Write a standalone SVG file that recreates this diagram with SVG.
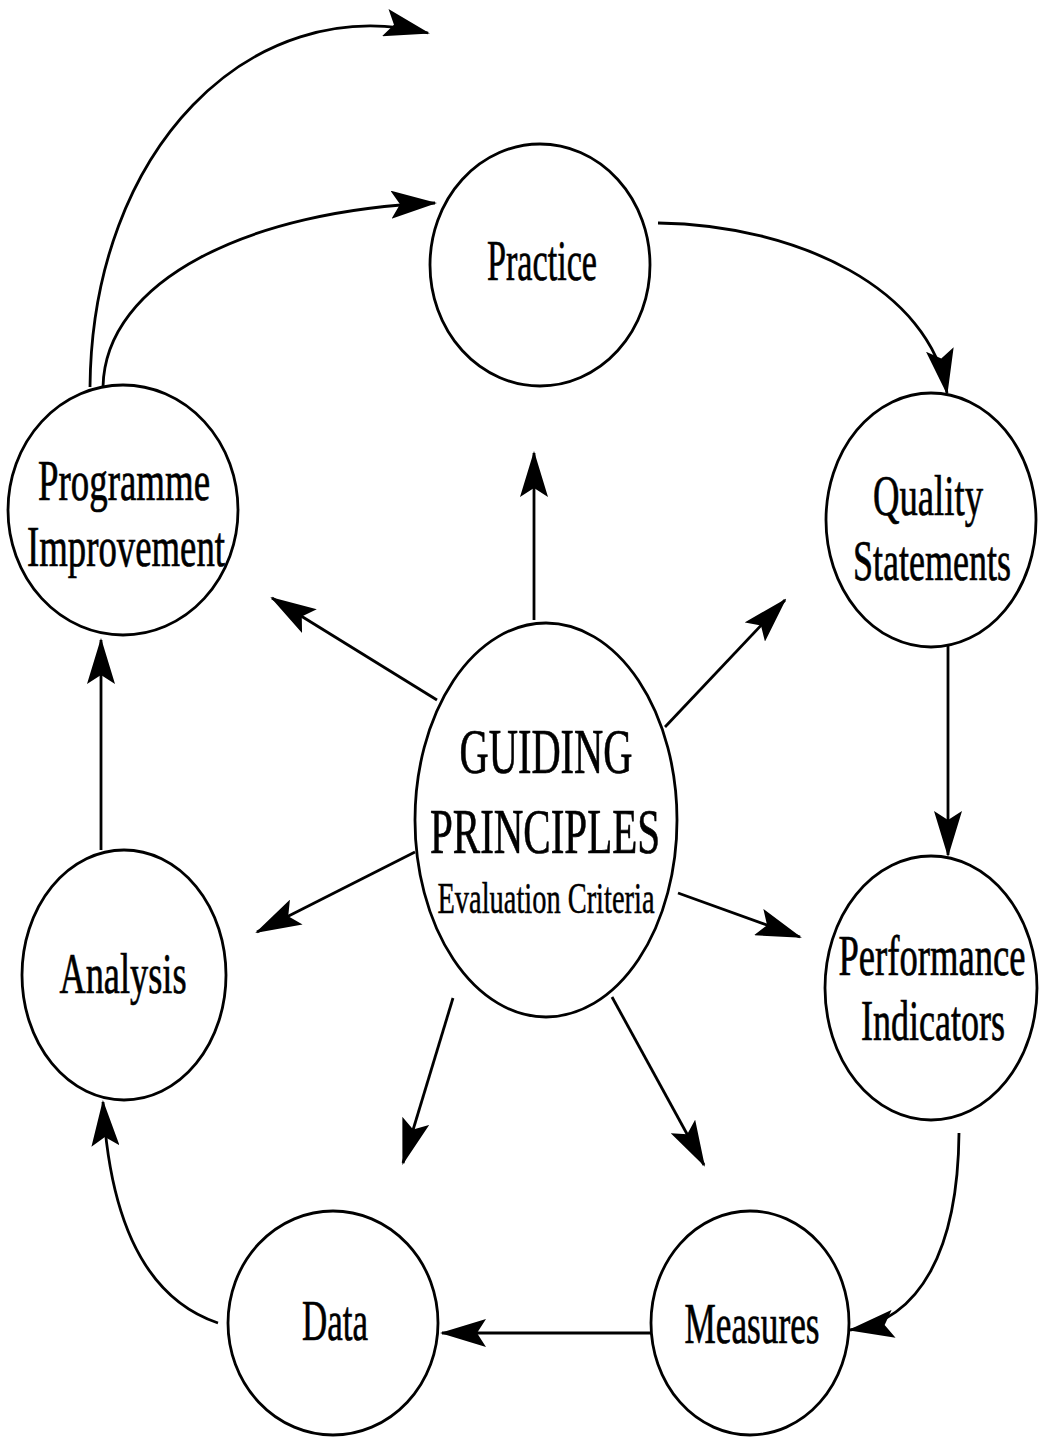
<svg xmlns="http://www.w3.org/2000/svg" width="1039" height="1437" viewBox="0 0 1039 1437">
  <style>
    .node { fill: #fff; stroke: #000; stroke-width: 2.8; }
    .lbl { font-family: "Liberation Serif", "Times New Roman", serif; font-size: 56px; fill: #000; stroke: #000; stroke-width: 0.7; text-anchor: middle; }
    .big { font-size: 64px; }
    .sub { font-size: 45px; stroke-width: 0.5; }
    .edge { fill: none; stroke: #000; stroke-width: 2.8; marker-end: url(#head); }
  </style>
  <defs>
    <marker id="head" viewBox="0 0 46 28" refX="44" refY="14" markerWidth="46" markerHeight="28" markerUnits="userSpaceOnUse" orient="auto">
      <path d="M0,0 L46,14 L0,28 L9,14 Z" fill="#000"/>
    </marker>
  </defs>
  <rect width="1039" height="1437" fill="#fff"/>

  <g id="edges">
    <!-- outer cycle -->
    <path class="edge" d="M90,387 C92,150 250,-10 428,33"/>
    <path class="edge" d="M103,387 C105,280 250,210 435,203"/>
    <path class="edge" d="M658,223 C800,225 930,290 947,393"/>
    <path class="edge" d="M948,642 L948,855"/>
    <path class="edge" d="M959,1133 C958,1250 920,1320 850,1330"/>
    <path class="edge" d="M651,1333 L442,1333"/>
    <path class="edge" d="M218,1323 C150,1300 110,1230 103,1102"/>
    <path class="edge" d="M101,850 L101,640"/>
    <!-- spokes from the centre -->
    <path class="edge" d="M534,620 L534,453"/>
    <path class="edge" d="M437,700 L272,598"/>
    <path class="edge" d="M665,727 L785,600"/>
    <path class="edge" d="M415,852 L257,932"/>
    <path class="edge" d="M678,893 L800,937"/>
    <path class="edge" d="M453,998 L403,1163"/>
    <path class="edge" d="M612,997 L704,1165"/>
  </g>

  <g id="practice">
    <ellipse class="node" cx="540" cy="265" rx="110" ry="121"/>
    <text class="lbl" x="542" y="280" textLength="110" lengthAdjust="spacingAndGlyphs">Practice</text>
  </g>
  <g id="quality-statements">
    <ellipse class="node" cx="931" cy="520" rx="105" ry="127"/>
    <text class="lbl" x="928" y="515" textLength="110" lengthAdjust="spacingAndGlyphs">Quality</text>
    <text class="lbl" x="932" y="580" textLength="158" lengthAdjust="spacingAndGlyphs">Statements</text>
  </g>
  <g id="performance-indicators">
    <ellipse class="node" cx="931" cy="988" rx="106" ry="132"/>
    <text class="lbl" x="932" y="975" textLength="187" lengthAdjust="spacingAndGlyphs">Performance</text>
    <text class="lbl" x="933" y="1040" textLength="144" lengthAdjust="spacingAndGlyphs">Indicators</text>
  </g>
  <g id="measures">
    <ellipse class="node" cx="750" cy="1323" rx="99" ry="112"/>
    <text class="lbl" x="752" y="1343" textLength="135" lengthAdjust="spacingAndGlyphs">Measures</text>
  </g>
  <g id="data">
    <ellipse class="node" cx="333" cy="1323" rx="105" ry="112"/>
    <text class="lbl" x="335" y="1340" textLength="66" lengthAdjust="spacingAndGlyphs">Data</text>
  </g>
  <g id="analysis">
    <ellipse class="node" cx="124" cy="975" rx="102" ry="125"/>
    <text class="lbl" x="123" y="993" textLength="127" lengthAdjust="spacingAndGlyphs">Analysis</text>
  </g>
  <g id="programme-improvement">
    <ellipse class="node" cx="123" cy="510" rx="115" ry="125"/>
    <text class="lbl" x="124" y="500" textLength="172" lengthAdjust="spacingAndGlyphs">Programme</text>
    <text class="lbl" x="126" y="566" textLength="198" lengthAdjust="spacingAndGlyphs">Improvement</text>
  </g>
  <g id="guiding-principles">
    <ellipse class="node" cx="546" cy="820" rx="131" ry="197"/>
    <text class="lbl big" x="546" y="773" textLength="173" lengthAdjust="spacingAndGlyphs">GUIDING</text>
    <text class="lbl big" x="545" y="853" textLength="230" lengthAdjust="spacingAndGlyphs">PRINCIPLES</text>
    <text class="lbl sub" x="546" y="913" textLength="217" lengthAdjust="spacingAndGlyphs">Evaluation Criteria</text>
  </g>
</svg>
